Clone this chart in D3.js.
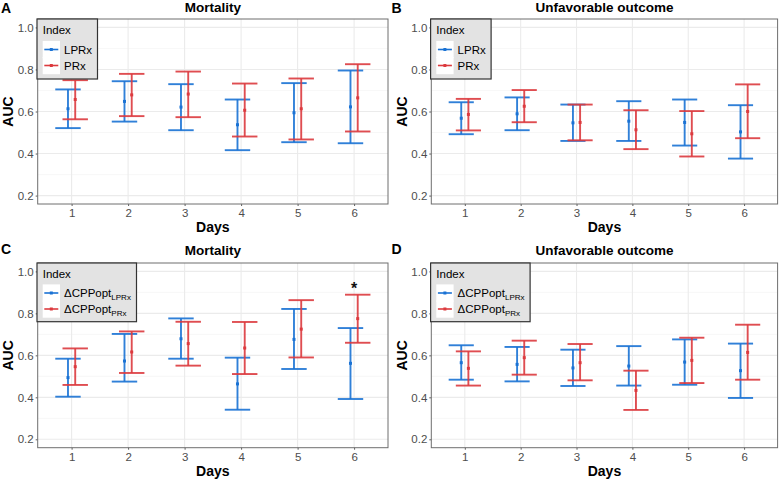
<!DOCTYPE html>
<html><head><meta charset="utf-8">
<script src="https://cdn.jsdelivr.net/npm/d3@7"></script>
<style>html,body{margin:0;padding:0;background:#fff;}svg{display:block;font-family:"Liberation Sans",Arial,Helvetica,sans-serif;}</style>
</head><body>
<script>
// ---- data ----
const days = [1, 2, 3, 4, 5, 6];
const yTicks = [0.2, 0.4, 0.6, 0.8, 1.0];
const yMinor = [0.3, 0.5, 0.7, 0.9];
const seriesNames = ["LPRx", "PRx"];

// A: Mortality, LPRx vs PRx
const mortLPRx    = [0.613, 0.648, 0.621, 0.537, 0.594, 0.622];
const mortLPRxLo  = [0.521, 0.552, 0.511, 0.416, 0.454, 0.449];
const mortLPRxHi  = [0.705, 0.744, 0.730, 0.657, 0.735, 0.795];
const mortPRx     = [0.657, 0.679, 0.683, 0.606, 0.613, 0.665];
const mortPRxLo   = [0.563, 0.578, 0.573, 0.481, 0.467, 0.505];
const mortPRxHi   = [0.749, 0.779, 0.790, 0.733, 0.757, 0.825];
// B: Unfavorable outcome, LPRx vs PRx
const unfLPRx     = [0.568, 0.589, 0.546, 0.554, 0.548, 0.503];
const unfLPRxLo   = [0.492, 0.511, 0.460, 0.460, 0.438, 0.376];
const unfLPRxHi   = [0.644, 0.667, 0.633, 0.649, 0.657, 0.630];
const unfPRx      = [0.586, 0.625, 0.548, 0.513, 0.494, 0.600];
const unfPRxLo    = [0.510, 0.549, 0.463, 0.421, 0.386, 0.473];
const unfPRxHi    = [0.660, 0.702, 0.633, 0.606, 0.602, 0.729];
// C: Mortality, dCPPopt
const mortCppL    = [0.494, 0.573, 0.679, 0.464, 0.676, 0.562];
const mortCppLLo  = [0.403, 0.475, 0.584, 0.341, 0.535, 0.392];
const mortCppLHi  = [0.584, 0.702, 0.776, 0.589, 0.821, 0.730];
const mortCppP    = [0.546, 0.616, 0.656, 0.635, 0.725, 0.775];
const mortCppPLo  = [0.459, 0.516, 0.551, 0.511, 0.590, 0.660];
const mortCppPHi  = [0.633, 0.714, 0.760, 0.759, 0.863, 0.889];
// D: Unfavorable outcome, dCPPopt
const unfCppL     = [0.565, 0.557, 0.540, 0.549, 0.568, 0.527];
const unfCppLLo   = [0.484, 0.476, 0.454, 0.456, 0.460, 0.397];
const unfCppLHi   = [0.648, 0.640, 0.627, 0.644, 0.676, 0.656];
const unfCppP     = [0.538, 0.589, 0.565, 0.433, 0.576, 0.614];
const unfCppPLo   = [0.456, 0.508, 0.481, 0.340, 0.468, 0.484];
const unfCppPHi   = [0.619, 0.670, 0.654, 0.527, 0.684, 0.746];

const starDay = 6; // significance marker in panel C

// ---- layout ----
const W = 779, H = 479;
const colors = ["#1a72d4", "#dc3a3e"];
const FONT = '"Liberation Sans",Arial,Helvetica,sans-serif';

const panels = [
  {tag:"A", title:"Mortality", x0:37.7, x1:388, y0:19, y1:204, cpp:false,
   s:[[mortLPRx,mortLPRxLo,mortLPRxHi],[mortPRx,mortPRxLo,mortPRxHi]]},
  {tag:"B", title:"Unfavorable outcome", x0:431.3, x1:777.6, y0:19, y1:204, cpp:false,
   s:[[unfLPRx,unfLPRxLo,unfLPRxHi],[unfPRx,unfPRxLo,unfPRxHi]]},
  {tag:"C", title:"Mortality", x0:37.7, x1:388, y0:263, y1:447.7, cpp:true, star:true,
   s:[[mortCppL,mortCppLLo,mortCppLHi],[mortCppP,mortCppPLo,mortCppPHi]]},
  {tag:"D", title:"Unfavorable outcome", x0:431.3, x1:777.6, y0:263, y1:447.7, cpp:true,
   s:[[unfCppL,unfCppLLo,unfCppLHi],[unfCppP,unfCppPLo,unfCppPHi]]}
];

const svg = d3.select("body").append("svg").attr("width", W).attr("height", H)
  .attr("viewBox", `0 0 ${W} ${H}`);
svg.append("rect").attr("width", W).attr("height", H).attr("fill", "#fff");

panels.forEach(p => {
  const g = svg.append("g");
  const x = d3.scaleLinear().domain([0.4, 6.6]).range([p.x0, p.x1]);
  const y = d3.scaleLinear().domain([0.16, 1.04]).range([p.y1, p.y0]);
  const dodge = 0.064, capW = 0.45;

  g.append("rect").attr("x", p.x0).attr("y", p.y0).attr("width", p.x1 - p.x0).attr("height", p.y1 - p.y0).attr("fill", "#fff");
  g.selectAll(".mn").data(yMinor).join("line")
    .attr("x1", p.x0).attr("x2", p.x1).attr("y1", d => y(d)).attr("y2", d => y(d))
    .attr("stroke", "#f2f2f2").attr("stroke-width", 0.6);
  g.selectAll(".mjy").data(yTicks).join("line")
    .attr("x1", p.x0).attr("x2", p.x1).attr("y1", d => y(d)).attr("y2", d => y(d))
    .attr("stroke", "#ebebeb").attr("stroke-width", 1.1);
  g.selectAll(".mjx").data(days).join("line")
    .attr("x1", d => x(d)).attr("x2", d => x(d)).attr("y1", p.y0).attr("y2", p.y1)
    .attr("stroke", "#ebebeb").attr("stroke-width", 1.1);

  const ax = g.append("g").attr("transform", `translate(0,${p.y1})`)
    .call(d3.axisBottom(x).tickValues(days).tickFormat(d3.format("d")).tickSize(2).tickPadding(3));
  const ay = g.append("g").attr("transform", `translate(${p.x0},0)`)
    .call(d3.axisLeft(y).tickValues(yTicks).tickFormat(d3.format(".1f")).tickSize(2).tickPadding(2));
  [ax, ay].forEach(a => {
    a.select(".domain").remove();
    a.selectAll(".tick line").attr("stroke", "#333").attr("stroke-width", 0.8);
    a.selectAll(".tick text").attr("fill", "#4d4d4d").attr("font-size", 11.5).attr("font-family", FONT);
  });

  p.s.forEach((ser, si) => {
    const off = si === 0 ? -dodge : dodge;
    const col = colors[si];
    const sg = g.append("g").attr("stroke", col).attr("stroke-width", 1.9).attr("stroke-opacity", 0.9);
    days.forEach((d, i) => {
      const cx = x(d + off);
      sg.append("line").attr("x1", cx).attr("x2", cx).attr("y1", y(ser[1][i])).attr("y2", y(ser[2][i]));
      sg.append("line").attr("x1", x(d + off - capW / 2)).attr("x2", x(d + off + capW / 2))
        .attr("y1", y(ser[1][i])).attr("y2", y(ser[1][i]));
      sg.append("line").attr("x1", x(d + off - capW / 2)).attr("x2", x(d + off + capW / 2))
        .attr("y1", y(ser[2][i])).attr("y2", y(ser[2][i]));
    });
    g.selectAll(null).data(days).join("rect")
      .attr("x", (d, i) => x(d + off) - 1.5).attr("y", (d, i) => y(ser[0][i]) - 1.5)
      .attr("width", 3).attr("height", 3).attr("fill", col);
  });

  if (p.star) {
    const ci = days.indexOf(starDay);
    g.append("text").attr("x", x(starDay)).attr("y", y(p.s[1][2][ci]) - 1)
      .attr("text-anchor", "middle").attr("font-weight", "bold").attr("font-size", 16)
      .attr("font-family", FONT).attr("fill", "#111").text("*");
  }

  g.append("rect").attr("x", p.x0).attr("y", p.y0).attr("width", p.x1 - p.x0).attr("height", p.y1 - p.y0)
    .attr("fill", "none").attr("stroke", "#6e6e6e").attr("stroke-width", 1);

  const top = p.tag === "A" || p.tag === "B";
  svg.append("text").attr("x", (p.x0 + p.x1) / 2).attr("y", p.y0 - (top ? 7 : 8))
    .attr("text-anchor", "middle").attr("font-weight", "bold").attr("font-size", 13.5)
    .attr("font-family", FONT).attr("fill", "#000").text(p.title);
  svg.append("text").attr("x", p.x0 < 100 ? 1 : 391.5).attr("y", p.y0 - (top ? 6.5 : 9))
    .attr("font-weight", "bold").attr("font-size", 14).attr("font-family", FONT).attr("fill", "#000").text(p.tag);
  svg.append("text").attr("x", (p.x0 + p.x1) / 2).attr("y", p.y1 + 28.3)
    .attr("text-anchor", "middle").attr("font-weight", "bold").attr("font-size", 14)
    .attr("font-family", FONT).attr("fill", "#000").text("Days");
  svg.append("text").attr("transform", `translate(${p.x0 - 24.3},${(p.y0 + p.y1) / 2}) rotate(-90)`)
    .attr("text-anchor", "middle").attr("font-weight", "bold").attr("font-size", 14)
    .attr("font-family", FONT).attr("fill", "#000").text("AUC");

  const lw = p.cpp ? 99.5 : 60.5, lh = p.cpp ? 58.7 : 60;
  const lg = svg.append("g").attr("transform", `translate(${p.x0 - 0.7},${p.y0})`);
  lg.append("rect").attr("x", 0).attr("y", 0).attr("width", lw).attr("height", lh)
    .attr("fill", "#e3e3e3").attr("stroke", "#333").attr("stroke-width", 1.2);
  lg.append("text").attr("x", 5.7).attr("y", p.cpp ? 14.5 : 15).attr("font-size", 11.5)
    .attr("font-family", FONT).attr("fill", "#000").text("Index");
  const keyY = p.cpp ? [30, 46] : [30.5, 46.5];
  seriesNames.forEach((nm, si) => {
    const ky = keyY[si];
    lg.append("rect").attr("x", 5.7).attr("y", ky - 8.6).attr("width", 17.3).attr("height", 17.3).attr("fill", "#fff");
    lg.append("line").attr("x1", 7.3).attr("x2", 21.3).attr("y1", ky).attr("y2", ky)
      .attr("stroke", colors[si]).attr("stroke-width", 1.6);
    lg.append("rect").attr("x", 14.3 - 1.5).attr("y", ky - 1.5).attr("width", 3).attr("height", 3).attr("fill", colors[si]);
    const t = lg.append("text").attr("x", 27).attr("y", ky + 4.2).attr("font-size", 11.5)
      .attr("font-family", FONT).attr("fill", "#000");
    if (p.cpp) {
      t.append("tspan").text("\u0394CPPopt");
      t.append("tspan").attr("font-size", 8).attr("dy", 2.5).text(nm);
    } else {
      t.text(nm);
    }
  });
});
</script>
</body></html>
